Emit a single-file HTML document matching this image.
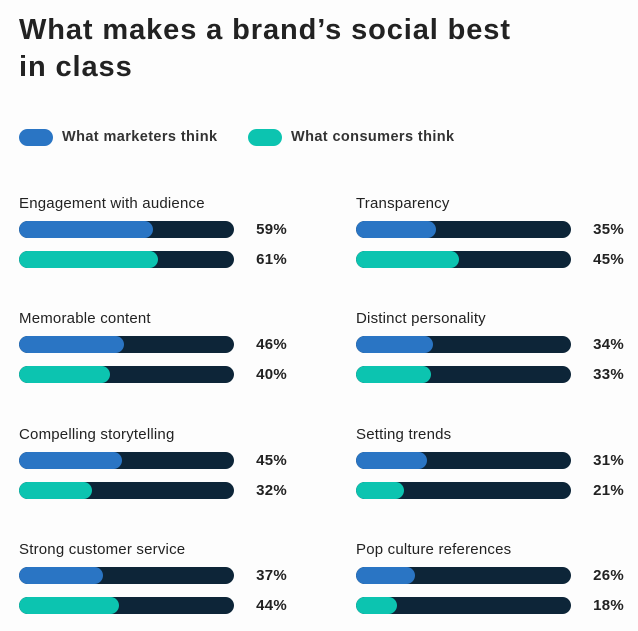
<!DOCTYPE html>
<html><head><meta charset="utf-8"><style>
body{margin:0;width:638px;height:631px;background:#fdfdfd;font-family:"Liberation Sans",sans-serif;color:#222;position:relative;overflow:hidden}
h1{position:absolute;left:19px;top:12px;margin:0;font-size:29px;line-height:37px;font-weight:bold;color:#222;letter-spacing:0.9px}
.leg{position:absolute;top:128px;height:18px;display:flex;align-items:center;font-size:14.5px;font-weight:bold;color:#333;letter-spacing:0.4px}
.sw{width:34px;height:17px;border-radius:9px;margin-right:9px}
.lab{position:absolute;font-size:15px;color:#222;letter-spacing:0.2px}
.track{position:absolute;height:17px;border-radius:9px;background:#0d2538;overflow:hidden}
.fill{height:100%;border-radius:9px}
.val{position:absolute;font-size:15px;font-weight:bold;text-align:right;width:50px;color:#222;letter-spacing:0.3px}
</style></head><body>
<h1>What makes a brand’s social best<br>in class</h1>
<div class="leg" style="left:19px"><div class="sw" style="background:#2a75c4"></div>What marketers think</div>
<div class="leg" style="left:248px"><div class="sw" style="background:#0cc4b0"></div>What consumers think</div>
<div id="chart"></div>
<script>
const categories=["Engagement with audience","Memorable content","Compelling storytelling","Strong customer service","Transparency","Distinct personality","Setting trends","Pop culture references"];
const marketers=[59,46,45,37,35,34,31,26];
const consumers=[61,40,32,44,45,33,21,18];
const colors=["#2a75c4","#0cc4b0"];
const c=document.getElementById('chart');
const W=215;
function xs(v){return Math.min(W,v/100*W*1.06);}
categories.forEach((cat,i)=>{
  const col=Math.floor(i/4),row=i%4;
  const x=col?356:19, y=193+row*115.3;
  const l=document.createElement('div');l.className='lab';
  
  
  l.style.left=x+'px';l.style.top=(y+2)+'px';l.textContent=cat;c.appendChild(l);
  [marketers[i],consumers[i]].forEach((v,k)=>{
    const t=document.createElement('div');t.className='track';
    
    
    t.style.left=x+'px';t.style.top=(y+28+k*30)+'px';t.style.width=W+'px';
    const f=document.createElement('div');f.className='fill';
    
    
    f.style.width=xs(v)+'px';f.style.background=colors[k];t.appendChild(f);c.appendChild(t);
    const vl=document.createElement('div');vl.className='val';
    
    
    vl.style.left=(x+W+3)+'px';vl.style.top=(y+28+k*30)+'px';vl.textContent=v+'%';c.appendChild(vl);
  });
});
</script>
</body></html>
